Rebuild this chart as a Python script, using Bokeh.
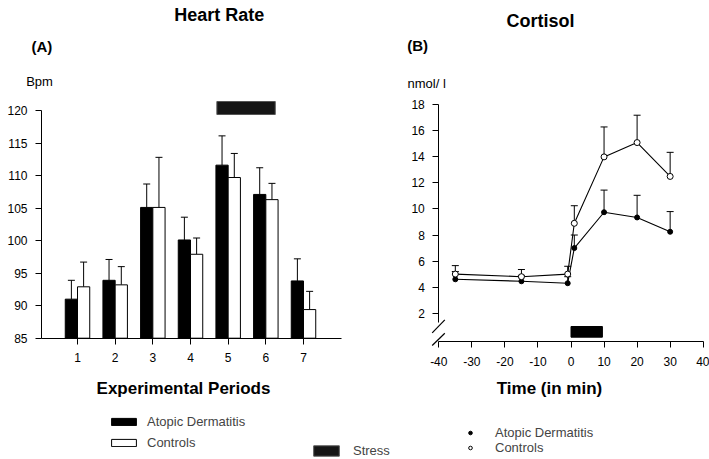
from bokeh.plotting import figure
from bokeh.layouts import row
from bokeh.models import (ColumnDataSource, FixedTicker, Label, Legend, LegendItem,
                          Whisker, TeeHead, Arrow, Range1d, CustomJSTickFormatter)
from bokeh.embed import file_html
from bokeh.resources import INLINE

# ---------------- Data: (A) Heart rate ----------------
periods = [1, 2, 3, 4, 5, 6, 7]
hr_ad = [91.0, 93.9, 105.1, 100.1, 111.6, 107.1, 93.8]
hr_ad_err = [93.9, 97.1, 108.7, 103.6, 116.1, 111.2, 97.2]
hr_ctrl = [92.9, 93.2, 105.1, 97.9, 109.7, 106.3, 89.4]
hr_ctrl_err = [96.7, 96.0, 112.8, 100.4, 113.4, 108.8, 92.2]
hr_yticks = [85, 90, 95, 100, 105, 110, 115, 120]
hr_stress = [4.7, 6.25]          # stress span, in period units

# ---------------- Data: (B) Cortisol ----------------
times = [-35, -15, -1, 1, 10, 20, 30]
cort_ad = [4.6, 4.45, 4.3, 7.0, 9.75, 9.35, 8.25]
cort_ad_err = [5.2, 4.9, 4.8, 8.0, 11.45, 11.05, 9.8]
cort_ctrl = [5.0, 4.8, 5.0, 8.9, 14.0, 15.1, 12.5]
cort_ctrl_err = [5.65, 5.35, 5.6, 10.25, 16.3, 17.2, 14.35]
cort_xticks = [-40, -30, -20, -10, 0, 10, 20, 30, 40]
cort_yticks = [2, 4, 6, 8, 10, 12, 14, 16, 18]
cort_stress = [0, 9.5]           # stress span, minutes

FONT = "Liberation Sans"
H = 459
WL, WR = 400, 309          # left canvas 0..400, right canvas 400..709 (page px)
SPLIT = WL

# ---------------- layout geometry (frames cover the whole canvas) ----------------
# left panel: x=1 at px 77, x=7 at px 303 ; y=85 at px 337.7, y=120 at px 110
LSX = (303 - 77) / 6.0
LSY = (337.7 - 110) / 35.0
LX0 = 1 - 77 / LSX
LX1 = LX0 + WL / LSX
LY1 = 120 + 110 / LSY
LY0 = 85 - (H - 337.7) / LSY
# right panel: x=-40 at 438.3, x=40 at 702.7 ; y=0 at 338.7, y=18 at 104.3
RSX = (702.7 - 438.3) / 80.0
RSY = (338.7 - 104.3) / 18.0
RX0 = -40 - (438.3 - SPLIT) / RSX
RX1 = RX0 + WR / RSX
RY1 = 18 + 104.3 / RSY
RY0 = 0 - (H - 338.7) / RSY


def L(px, py):
    """page pixel -> left panel data coords"""
    return (LX0 + px / LSX, LY1 - py / LSY)


def R(px, py):
    """page pixel -> right panel data coords"""
    return (RX0 + (px - SPLIT) / RSX, RY1 - py / RSY)


def style_axes(p):
    for ax in (p.xaxis, p.yaxis):
        ax.axis_line_color = "black"
        ax.axis_line_width = 1
        ax.major_tick_line_color = "black"
        ax.major_tick_in = 0
        ax.major_tick_out = 6
        ax.minor_tick_line_color = None
        ax.major_label_text_font = FONT
        ax.major_label_text_font_size = "12px"
        ax.major_label_text_color = "black"
    p.xaxis.major_label_standoff = 9
    p.yaxis.major_label_standoff = 8
    p.xgrid.grid_line_color = None
    p.ygrid.grid_line_color = None
    p.outline_line_color = None


def add_label(p, xy, text, size, bold=False, align="left"):
    p.add_layout(Label(x=xy[0], y=xy[1], text=text, text_font=FONT,
                       text_font_size=size, text_font_style="bold" if bold else "normal",
                       text_align=align, text_baseline="middle", text_color="black"))


def make_fig(w, xr, yr):
    return figure(width=w, height=H, output_backend="svg", toolbar_location=None,
                  x_range=Range1d(*xr), y_range=Range1d(*yr),
                  min_border=0, min_border_left=0, min_border_right=0,
                  min_border_top=0, min_border_bottom=0)


# ================= Left panel =================
p1 = make_fig(WL, (LX0, LX1), (LY0, LY1))
style_axes(p1)
p1.xaxis.ticker = FixedTicker(ticks=periods)
p1.yaxis.ticker = FixedTicker(ticks=hr_yticks)
p1.yaxis.fixed_location = L(41, 0)[0]
p1.xaxis.fixed_location = hr_yticks[0]
p1.yaxis.bounds = (hr_yticks[0], hr_yticks[-1])
p1.xaxis.bounds = (L(41, 0)[0], L(340.5, 0)[0])

bw = 0.325
src_ad = ColumnDataSource(dict(x=[v - bw / 2 for v in periods], top=hr_ad, err=hr_ad_err))
src_c = ColumnDataSource(dict(x=[v + bw / 2 for v in periods], top=hr_ctrl, err=hr_ctrl_err))
r_ad = p1.vbar(x="x", top="top", bottom=hr_yticks[0], width=bw, source=src_ad,
               fill_color="black", line_color="black", line_width=1)
r_c = p1.vbar(x="x", top="top", bottom=hr_yticks[0], width=bw, source=src_c,
              fill_color="white", line_color="black", line_width=1)
for s in (src_ad, src_c):
    p1.add_layout(Whisker(source=s, base="x", lower="top", upper="err", dimension="height",
                          line_color="black", line_width=1, lower_head=None,
                          upper_head=TeeHead(size=7, line_color="black", line_width=1),
                          level="underlay"))

sy0, sy1 = L(0, 114)[1], L(0, 101)[1]
r_stress = p1.quad(left=[hr_stress[0]], right=[hr_stress[1]], bottom=[sy0], top=[sy1],
                   fill_color="#151515", line_color="#555555", line_width=1)

add_label(p1, L(218.7, 14.5), "Heart Rate", "18px", bold=True, align="center")
add_label(p1, L(31, 45.5), "(A)", "15px", bold=True)
add_label(p1, L(25.7, 81), "Bpm", "13px")
add_label(p1, L(183, 388), "Experimental Periods", "17px", bold=True, align="center")

leg1 = Legend(items=[LegendItem(label="Atopic Dermatitis", renderers=[r_ad]),
                     LegendItem(label="Controls", renderers=[r_c])],
              location=(108, H - 450),
              glyph_width=31, glyph_height=9, label_standoff=8, spacing=6,
              padding=0, margin=0, border_line_color=None, background_fill_alpha=0,
              label_text_font=FONT, label_text_font_size="13px", label_height=9)
p1.add_layout(leg1)
leg_s = Legend(items=[LegendItem(label="Stress", renderers=[r_stress])],
               location=(310, H - 458),
               glyph_width=32, glyph_height=13, label_standoff=11,
               padding=0, margin=0, border_line_color=None, background_fill_alpha=0,
               label_text_font=FONT, label_text_font_size="13px", label_height=9)
p1.add_layout(leg_s)

# ================= Right panel =================
p2 = make_fig(WR, (RX0, RX1), (RY0, RY1))
style_axes(p2)
p2.xaxis.ticker = FixedTicker(ticks=cort_xticks)
p2.yaxis.ticker = FixedTicker(ticks=cort_yticks)
p2.xaxis.formatter = CustomJSTickFormatter(code="return tick.toString()")
p2.xaxis.major_label_standoff = 10
p2.yaxis.fixed_location = cort_xticks[0]
p2.xaxis.fixed_location = R(0, 340.6)[1]
p2.xaxis.bounds = (cort_xticks[0], cort_xticks[-1])
p2.yaxis.bounds = (R(0, 321.7)[1], cort_yticks[-1])

c_ad = ColumnDataSource(dict(x=times, y=cort_ad, err=cort_ad_err))
c_c = ColumnDataSource(dict(x=times, y=cort_ctrl, err=cort_ctrl_err))
for s in (c_ad, c_c):
    p2.add_layout(Whisker(source=s, base="x", lower="y", upper="err", dimension="height",
                          line_color="black", line_width=1, lower_head=None,
                          upper_head=TeeHead(size=7, line_color="black", line_width=1),
                          level="underlay"))
p2.line("x", "y", source=c_ad, line_color="black", line_width=1.1)
p2.line("x", "y", source=c_c, line_color="black", line_width=1.1)
m_ad = p2.scatter("x", "y", source=c_ad, marker="circle", size=5,
                  fill_color="black", line_color="black")
m_c = p2.scatter("x", "y", source=c_c, marker="circle", size=6,
                 fill_color="white", line_color="black", line_width=1)

ry0, ry1 = R(0, 336.7)[1], R(0, 326)[1]
p2.quad(left=[cort_stress[0]], right=[cort_stress[1]], bottom=[ry0], top=[ry1],
        fill_color="black", line_color="black")

# axis break marks
for (a, b) in [((431.7, 332.3), (444.3, 319.3)), ((431.7, 345.0), (444.3, 332.7))]:
    xa, ya = R(*a)
    xb, yb = R(*b)
    p2.add_layout(Arrow(x_start=xa, y_start=ya, x_end=xb, y_end=yb, start=None, end=None,
                        line_color="black", line_width=1.2))

add_label(p2, R(540, 20), "Cortisol", "18px", bold=True, align="center")
add_label(p2, R(406.7, 45), "(B)", "15px", bold=True)
add_label(p2, R(407, 83), "nmol/ l", "13px")
add_label(p2, R(549, 388), "Time (in min)", "17px", bold=True, align="center")

leg2 = Legend(items=[LegendItem(label="Atopic Dermatitis", renderers=[m_ad]),
                     LegendItem(label="Controls", renderers=[m_c])],
              location=(460 - SPLIT, H - 455),
              glyph_width=20, glyph_height=9, label_standoff=15, spacing=0,
              padding=0, margin=0, border_line_color=None, background_fill_alpha=0,
              label_text_font=FONT, label_text_font_size="13px", label_height=9)
p2.add_layout(leg2)

layout = row(p1, p2)
open("out.html", "w").write(file_html(layout, INLINE))
